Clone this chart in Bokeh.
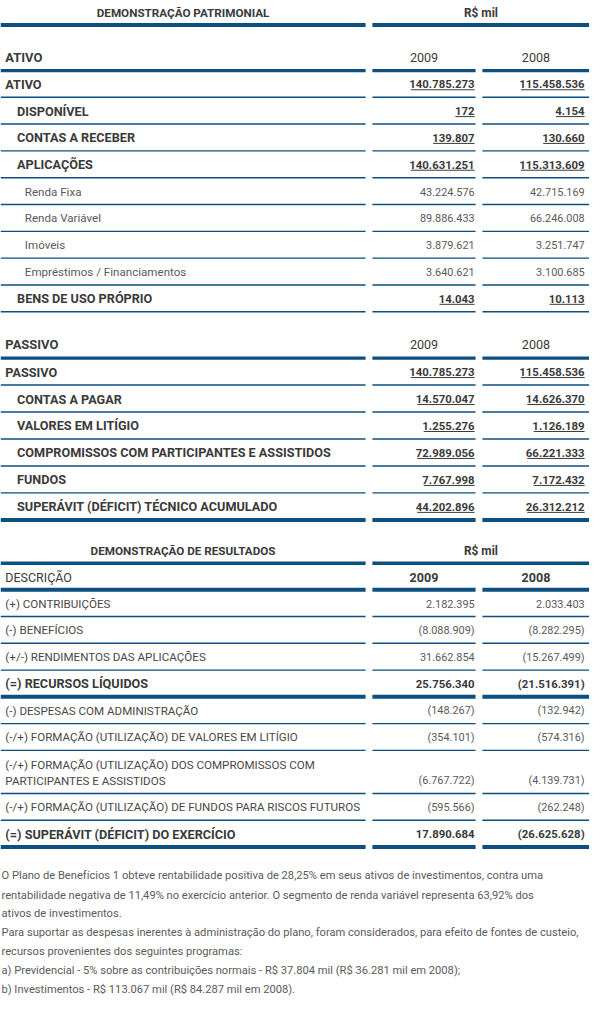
from bokeh.plotting import figure
from bokeh.models import Range1d, ColumnDataSource
from bokeh.core.properties import value
from bokeh.embed import file_html
from bokeh.resources import INLINE

# ---------------- data ----------------
pat_title = "DEMONSTRAÇÃO PATRIMONIAL"
res_title = "DEMONSTRAÇÃO DE RESULTADOS"
unit_label = "R$ mil"
years = ["2009", "2008"]

ativo_header = "ATIVO"
ativo_labels = ["ATIVO", "DISPONÍVEL", "CONTAS A RECEBER", "APLICAÇÕES", "Renda Fixa",
                "Renda Variável", "Imóveis", "Empréstimos / Financiamentos", "BENS DE USO PRÓPRIO"]
ativo_2009 = [140785273, 172, 139807, 140631251, 43224576, 89886433, 3879621, 3640621, 14043]
ativo_2008 = [115458536, 4154, 130660, 115313609, 42715169, 66246008, 3251747, 3100685, 10113]
ativo_kind = ["total", "group", "group", "group", "item", "item", "item", "item", "group"]

passivo_header = "PASSIVO"
passivo_labels = ["PASSIVO", "CONTAS A PAGAR", "VALORES EM LITÍGIO",
                  "COMPROMISSOS COM PARTICIPANTES E ASSISTIDOS", "FUNDOS",
                  "SUPERÁVIT (DÉFICIT) TÉCNICO ACUMULADO"]
passivo_2009 = [140785273, 14570047, 1255276, 72989056, 7767998, 44202896]
passivo_2008 = [115458536, 14626370, 1126189, 66221333, 7172432, 26312212]
passivo_kind = ["total", "group", "group", "group", "group", "group"]

res_header = "DESCRIÇÃO"
res_labels = ["(+) CONTRIBUIÇÕES", "(-) BENEFÍCIOS", "(+/-) RENDIMENTOS DAS APLICAÇÕES",
              "(=) RECURSOS LÍQUIDOS", "(-) DESPESAS COM ADMINISTRAÇÃO",
              "(-/+) FORMAÇÃO (UTILIZAÇÃO) DE VALORES EM LITÍGIO",
              "(-/+) FORMAÇÃO (UTILIZAÇÃO) DOS COMPROMISSOS COM\nPARTICIPANTES E ASSISTIDOS",
              "(-/+) FORMAÇÃO (UTILIZAÇÃO) DE FUNDOS PARA RISCOS FUTUROS",
              "(=) SUPERÁVIT (DÉFICIT) DO EXERCÍCIO"]
res_2009 = [2182395, -8088909, 31662854, 25756340, -148267, -354101, -6767722, -595566, 17890684]
res_2008 = [2033403, -8282295, -15267499, -21516391, -132942, -574316, -4139731, -262248, -26625628]
res_bold = [False, False, False, True, False, False, False, False, True]

notes = [
    "O Plano de Benefícios 1 obteve rentabilidade positiva de 28,25% em seus ativos de investimentos, contra uma",
    "rentabilidade negativa de 11,49% no exercício anterior. O segmento de renda variável representa 63,92% dos",
    "ativos de investimentos.",
    "Para suportar as despesas inerentes à administração do plano, foram considerados, para efeito de fontes de custeio,",
    "recursos provenientes dos seguintes programas:",
    "a) Previdencial - 5% sobre as contribuições normais - R$ 37.804 mil (R$ 36.281 mil em 2008);",
    "b) Investimentos - R$ 113.067 mil (R$ 84.287 mil em 2008).",
]

# ---------------- layout / style ----------------
W, H = 589, 999
REF_W, REF_H = 605, 1015
SX = W / REF_W
FONT = "Roboto"
NOTE_FONT = "Roboto"
LINE = "#0d4f80"
DARK = "#3a3a3a"
MID = "#484848"
LIGHT = "#5a5a5a"
COLS = [(0, 375), (382, 488), (495, 605)]
HEAD_COLS = [(0, 375), (382, 605)]
VAL_X = [487, 600]
YEAR_X = [435, 550]

# font sizes (reference pixels)
SZ_TITLE = 12.0
SZ_UNIT = 12.2
SZ_HEAD = 13.3
SZ_YEAR = 12.9
SZ_BLABEL = 13.0
SZ_ITEM = 11.9
SZ_RLABEL = 11.9
SZ_BNUM = 11.7
SZ_NUM = 11.2
SZ_NOTE = 11.45


def fs(px):
    return f"{px * SX:.2f}px"


def fmt(v):
    s = f"{abs(v):,}".replace(",", ".")
    return f"({s})" if v < 0 else s


def text_w(s, px):
    # approximate rendered width (reference px) of a numeric string
    w = 0.0
    for ch in s:
        if ch.isdigit():
            w += 0.562
        elif ch in ".,":
            w += 0.27
        else:
            w += 0.33
    return w * px


p = figure(width=W, height=H, x_range=Range1d(0, REF_W), y_range=Range1d(REF_H, 0),
           output_backend="svg", toolbar_location=None, min_border=0,
           x_axis_location=None, y_axis_location=None)
p.grid.visible = False
p.outline_line_color = None
p.background_fill_color = "white"
p.border_fill_color = "white"


def txt(xs, ys, ts, size, bold=False, color=DARK, align="left", font=FONT):
    src = ColumnDataSource(dict(x=list(xs), y=list(ys), t=list(ts)))
    p.text(x="x", y="y", text="t", source=src, text_font=value(font),
           text_font_size=fs(size), text_font_style="bold" if bold else "normal",
           text_color=color, text_align=align, text_baseline="middle")


def hline(y, segs, width):
    src = ColumnDataSource(dict(x0=[a for a, b in segs], x1=[b for a, b in segs],
                                y0=[y] * len(segs), y1=[y] * len(segs)))
    p.segment(x0="x0", y0="y0", x1="x1", y1="y1", source=src,
              line_color=LINE, line_width=width)


def underline(xr, y, s, px):
    w = text_w(s, px)
    src = ColumnDataSource(dict(x0=[xr - w], x1=[xr], y0=[y], y1=[y]))
    p.segment(x0="x0", y0="y0", x1="x1", y1="y1", source=src,
              line_color=DARK, line_width=1)


# ---- Demonstração patrimonial ----
txt([187.5], [12.5], [pat_title], SZ_TITLE, bold=True, align="center")
txt([493.5], [12.5], [unit_label], SZ_UNIT, bold=True, align="center")
hline(25, HEAD_COLS, 4)


def balance_block(header, hdr_y, hdr_line, first_line, step, labels, v09, v08, kinds, last_thick):
    txt([5], [hdr_y], [header], SZ_HEAD, bold=True)
    txt(YEAR_X, [hdr_y] * 2, years, SZ_YEAR, bold=False, color=DARK, align="center")
    hline(hdr_line, COLS, 3.3)
    n = len(labels)
    for i in range(n):
        yl = first_line + step * i
        yc = yl - 13.2
        k = kinds[i]
        if k == "item":
            txt([25], [yc], [labels[i]], SZ_ITEM, color=LIGHT)
            txt(VAL_X, [yc] * 2, [fmt(v09[i]), fmt(v08[i])], SZ_NUM, color=LIGHT, align="right")
        else:
            x0 = 5 if k == "total" else 17
            txt([x0], [yc], [labels[i]], SZ_BLABEL, bold=True)
            vals = [fmt(v09[i]), fmt(v08[i])]
            txt(VAL_X, [yc] * 2, vals, SZ_BNUM, bold=True, align="right")
            for xr, s in zip(VAL_X, vals):
                underline(xr, yc + 5.6, s, SZ_BNUM)
        w = 4 if (last_thick and i == n - 1) else 1.4
        hline(yl, COLS, w)


balance_block(ativo_header, 58, 71.3, 98.3, 27.25, ativo_labels, ativo_2009, ativo_2008,
              ativo_kind, False)
balance_block(passivo_header, 350, 363.3, 390.7, 27.4, passivo_labels, passivo_2009,
              passivo_2008, passivo_kind, True)

# ---- Demonstração de resultados ----
txt([187.5], [559.5], [res_title], SZ_TITLE, bold=True, align="center")
txt([493.5], [559.5], [unit_label], SZ_UNIT, bold=True, align="center")
hline(571.7, HEAD_COLS, 3.5)
txt([5], [586], [res_header], 12.8, color=DARK)
txt(YEAR_X, [586] * 2, years, SZ_YEAR, bold=True, align="center")
hline(598.7, COLS, 4)

yl = 598.7
for i, lab in enumerate(res_labels):
    lines = lab.split("\n")
    yl += 27.2 + 16.6 * (len(lines) - 1)
    yc = yl - 13.2
    bold = res_bold[i]
    for j, ln in enumerate(lines):
        txt([5], [yc - 16.2 * (len(lines) - 1 - j)], [ln], SZ_BLABEL if bold else SZ_RLABEL,
            bold=bold, color=DARK if bold else MID)
    txt(VAL_X, [yc] * 2, [fmt(res_2009[i]), fmt(res_2008[i])], SZ_BNUM if bold else SZ_NUM,
        bold=bold, color=DARK if bold else LIGHT, align="right")
    hline(yl, COLS, 4 if bold else 1.4)

# ---- notes ----
note_y = [889, 909.5, 928, 947, 966.5, 985.5, 1004.5]
txt([1] * len(notes), note_y, notes, SZ_NOTE, color=LIGHT, font=NOTE_FONT)

open("out.html", "w").write(file_html(p, INLINE))
